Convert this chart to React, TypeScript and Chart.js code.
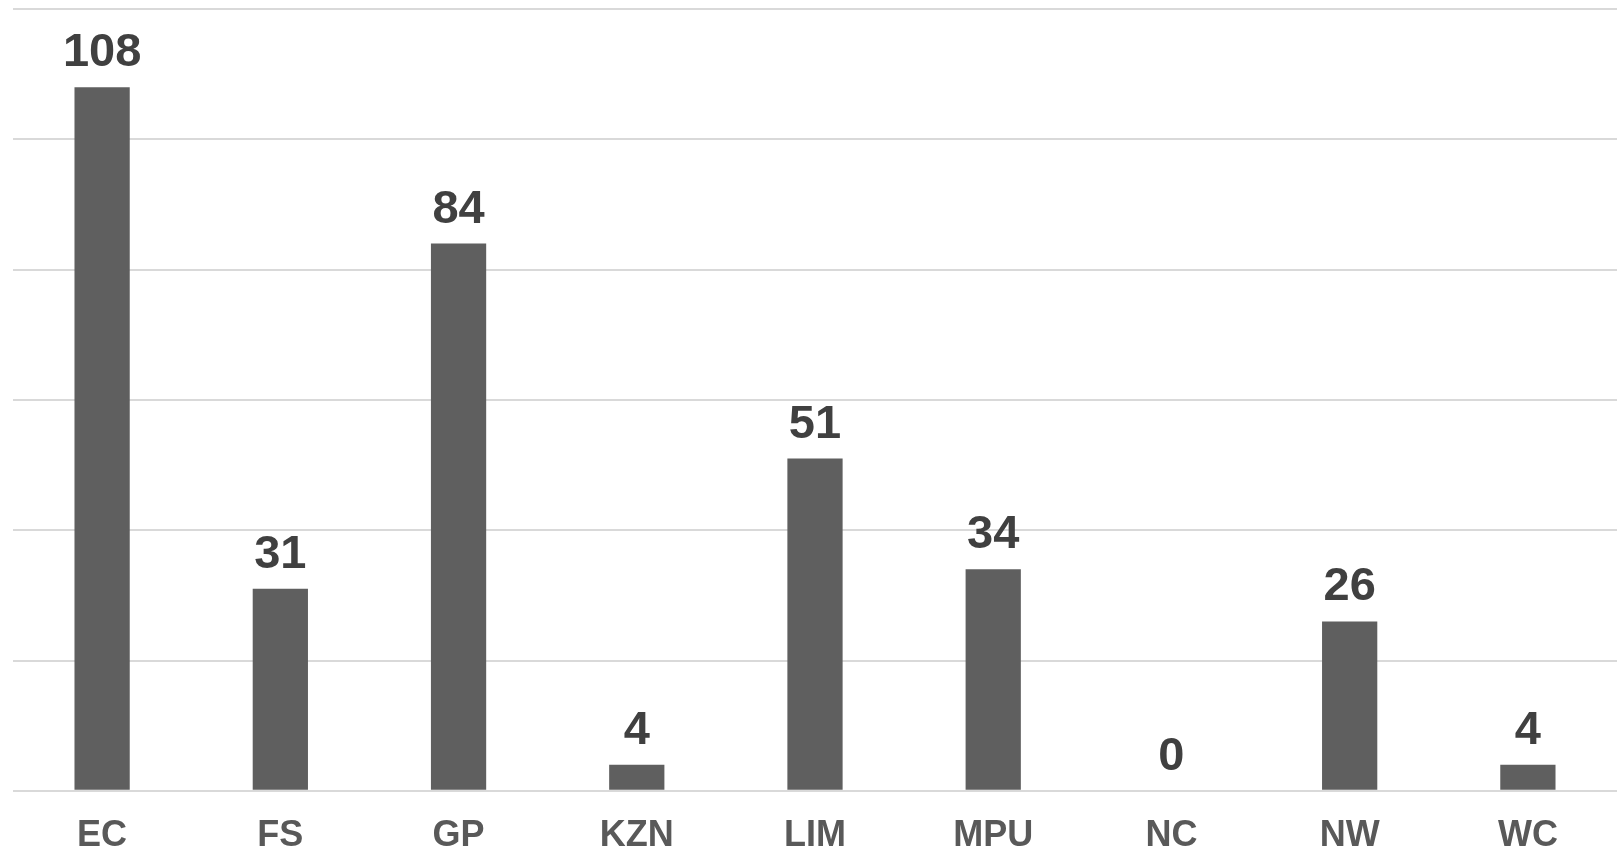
import React, { useEffect, useRef } from "react";
import { Chart, registerables } from "chart.js";

Chart.register(...registerables);

const categories = ["EC", "FS", "GP", "KZN", "LIM", "MPU", "NC", "NW", "WC"];
const values = [108, 31, 84, 4, 51, 34, 0, 26, 4];
const yMin = 0;
const yMax = 120;
const yStep = 20;

const FONT = "'Liberation Sans', Arial, Helvetica, sans-serif";

const dataLabelPlugin = {
  id: "dataLabels",
  afterDatasetsDraw(chart: any) {
    const ctx = chart.ctx;
    const meta = chart.getDatasetMeta(0);
    ctx.save();
    ctx.font = `bold 47px ${FONT}`;
    ctx.fillStyle = "#404040";
    ctx.textAlign = "center";
    ctx.textBaseline = "alphabetic";
    meta.data.forEach((bar: any, i: number) => {
      const v = chart.data.datasets[0].data[i];
      ctx.fillText(String(v), bar.x, bar.y - 21);
    });
    ctx.restore();
  },
};

export default function App() {
  const ref = useRef<HTMLCanvasElement | null>(null);
  useEffect(() => {
    if (!ref.current) return;
    const chart = new Chart(ref.current, {
      type: "bar",
      data: {
        labels: categories,
        datasets: [
          {
            data: values,
            backgroundColor: "#5f5f5f",
            borderWidth: 0,
            categoryPercentage: 1,
            barPercentage: 0.31,
          },
        ],
      },
      options: {
        animation: false,
        responsive: true,
        maintainAspectRatio: false,
        layout: { padding: { left: 13, right: 1, top: 9, bottom: 0 } },
        plugins: {
          legend: { display: false },
          tooltip: { enabled: false },
        },
        scales: {
          x: {
            grid: { display: false, drawTicks: false },
            border: { display: false },
            ticks: {
              color: "#595959",
              padding: 24,
              font: { family: FONT, size: 36, weight: "bold" },
              maxRotation: 0,
              autoSkip: false,
            },
          },
          y: {
            min: yMin,
            max: yMax,
            ticks: { display: false, stepSize: yStep },
            grid: { color: "#d9d9d9", lineWidth: 2, drawTicks: false },
            border: { display: false },
          },
        },
      },
      plugins: [dataLabelPlugin],
    });
    return () => chart.destroy();
  }, []);
  return (
    <div
      style={{
        position: "fixed",
        left: 0,
        top: 0,
        width: 1618,
        height: 852,
        overflow: "hidden",
        background: "#ffffff",
      }}
    >
      <div style={{ position: "relative", width: 1618, height: 882 }}>
        <canvas ref={ref} />
      </div>
    </div>
  );
}
